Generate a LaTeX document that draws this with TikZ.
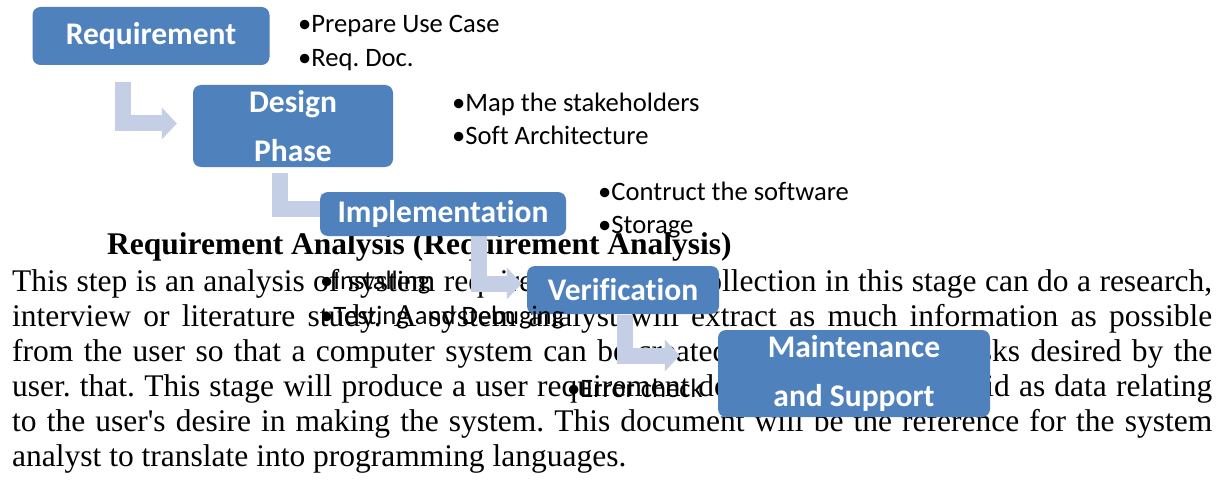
\documentclass[tikz,border=0pt]{standalone}
\usepackage{fontspec}
\setmainfont{Liberation Serif}[Ligatures={NoCommon,TeXOff}]
\newfontfamily\calibri{Carlito}[Ligatures=NoCommon]
\usetikzlibrary{arrows.meta,calc}
\definecolor{stepblue}{RGB}{79,129,189}
\definecolor{flowgray}{RGB}{196,206,228}
\pgfdeclarelayer{prose}
\pgfdeclarelayer{flow}
\pgfsetlayers{prose,flow,main}
\frenchspacing
\begin{document}
\begin{tikzpicture}[x=1pt,y=-1pt,
  para/.style={anchor=base west,inner sep=0pt,font=\fontsize{31.5}{36}\selectfont},
  stepbox/.style={fill=stepblue,rounded corners=8pt,text=white,align=center,inner sep=0pt,
    font=\calibri\bfseries\fontsize{31.5}{49}\selectfont},
  note/.style={anchor=base west,inner sep=0pt,font=\calibri\fontsize{26.6}{34}\selectfont},
  bent/.style={draw=flowgray,line width=16pt,line cap=butt,
    -{Triangle[width=31pt,length=15pt]}}]
\useasboundingbox (0,0) rectangle (1223,484);

% process steps
\node[stepbox,minimum width=237pt,minimum height=58pt] (req) at (151,36) {Requirement};
\node[stepbox,minimum width=200pt,minimum height=82pt] (des) at (293,126) {Design\\Phase};
\node[stepbox,minimum width=246pt,minimum height=44pt] (imp) at (443,214) {Implementation};
\node[stepbox,minimum width=192pt,minimum height=48pt] (ver) at (623,290) {Verification};
\node[stepbox,minimum width=272pt,minimum height=87pt] (mnt) at (854,373.5) {Maintenance\\and Support};

% bullet notes beside each step
\node[note] (n1a) at (298,33) {•Prepare Use Case};
\node[note] (n1b) at (298,67) {•Req. Doc.};
\node[note] (n2a) at (452,112) {•Map the stakeholders};
\node[note] (n2b) at (452,145) {•Soft Architecture};
\node[note] (n3a) at (598,200) {•Contruct the software};
\node[note] (n3b) at (598,233) {•Storage};
\node[note] (n4a) at (320,289) {•Installing};
\node[note] (n4b) at (320,324) {•Testing and Debuging};
\node[note] (n5a) at (567,397) {•Error check};

% bent arrows between the steps
\begin{pgfonlayer}{flow}
\draw[bent] ($(req.south west)+(91,17)$) |- ($(des.west)+(-16,-2.5)$);
\draw[bent] ($(des.south west)+(87,6)$) |- ($(imp.west)+(16,-5.5)$);
\draw[bent] ($(imp.south west)+(159.5,0)$) |- ($(ver.west)+(-5,-6.5)$);
\draw[bent] ($(ver.south west)+(98.5,1)$) |- ($(mnt.west)+(-38,-18)$);
\end{pgfonlayer}

% body text underneath
\begin{pgfonlayer}{prose}
\fill[white] (0,0) rectangle (1223,484);
\node[para] (head) at (107,254) {\bfseries Requirement Analysis (Requirement Analysis)};
\node[para] (l1) at (12,291) {\hbox to 1200pt{This step is an analysis of system requirements. Data collection in this stage can do a research,}};
\node[para] (l2) at (12,326) {\hbox to 1200pt{interview or literature study. A system analyst will extract as much information as possible}};
\node[para] (l3) at (12,361) {\hbox to 1200pt{from the user so that a computer system can be created according to the tasks desired by the}};
\node[para] (l4) at (12,396) {\hbox to 1200pt{user. that. This stage will produce a user requirement document or can be said as data relating}};
\node[para] (l5) at (12,431) {\hbox to 1200pt{to the user's desire in making the system. This document will be the reference for the system}};
\node[para] (l6) at (12,466) {analyst to translate into programming languages.};
\end{pgfonlayer}
\end{tikzpicture}
\end{document}
